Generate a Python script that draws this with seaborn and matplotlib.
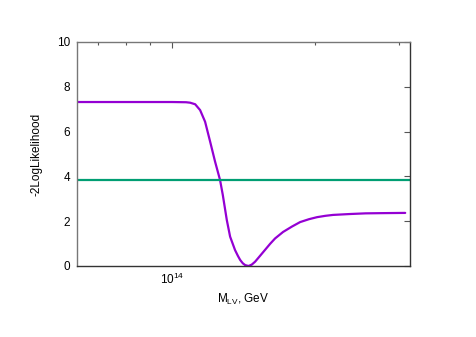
import numpy as np
import pandas as pd
import matplotlib
matplotlib.use('Agg')
import matplotlib.pyplot as plt
import matplotlib.ticker as mticker
import seaborn as sns

# scan of -2 log L against the LV mass scale (GeV)
mass = [6.31e13, 8.0e13, 1.0e14, 1.07e14, 1.091e14, 1.118e14, 1.145e14, 1.173e14,
        1.202e14, 1.231e14, 1.261e14, 1.278e14, 1.303e14, 1.324e14, 1.356e14,
        1.375e14, 1.390e14, 1.408e14, 1.424e14, 1.447e14, 1.470e14, 1.494e14,
        1.530e14, 1.568e14, 1.607e14, 1.646e14, 1.711e14, 1.786e14, 1.858e14,
        1.94e14, 2.017e14, 2.10e14, 2.179e14, 2.364e14, 2.55e14, 2.775e14, 3.09e14]
loglike = [7.32, 7.32, 7.32, 7.31, 7.29, 7.22, 6.96, 6.44,
           5.55, 4.66, 3.84, 3.17, 2.05, 1.31, 0.71,
           0.45, 0.27, 0.12, 0.04, 0.0, 0.06, 0.19,
           0.45, 0.72, 0.99, 1.23, 1.52, 1.76, 1.96,
           2.09, 2.18, 2.24, 2.28, 2.32, 2.35, 2.36, 2.37]
threshold = 3.84

df = pd.DataFrame({'mass': mass, 'loglike': loglike})

sns.set_style('white')
plt.rcParams['font.family'] = ['Liberation Sans', 'DejaVu Sans']
plt.rcParams['mathtext.fontset'] = 'custom'
plt.rcParams['mathtext.rm'] = 'Liberation Sans'
plt.rcParams['mathtext.it'] = 'Liberation Sans'
plt.rcParams['text.color'] = 'black'
plt.rcParams['axes.labelcolor'] = 'black'

fig = plt.figure(figsize=(4.77, 3.37), dpi=100)
ax = fig.add_axes([0.1614, 0.2107, 0.6981, 0.6647])

sns.lineplot(data=df, x='mass', y='loglike', color='#9400D3', linewidth=1.6, ax=ax)
ax.axhline(threshold, color='#009E73', linewidth=1.6)

ax.set_xscale('log')
ax.set_xlim(10**13.8, 10**14.5)
ax.set_ylim(0, 10)
ax.set_yticks([0, 2, 4, 6, 8, 10])
ax.xaxis.set_major_locator(mticker.FixedLocator([1e14]))
ax.xaxis.set_major_formatter(mticker.FixedFormatter([r'$\mathregular{10^{14}}$']))
ax.xaxis.set_minor_locator(mticker.FixedLocator([7e13, 8e13, 9e13, 2e14, 3e14]))
ax.xaxis.set_minor_formatter(mticker.NullFormatter())

ax.tick_params(which='both', direction='in', top=True, right=True, length=4,
               width=0.8, color='#555555', labelcolor='black', labelsize=8.5)
ax.tick_params(which='minor', length=2.5)
ax.tick_params(axis='y', pad=5)
ax.tick_params(axis='x', pad=4)

for side in ['top', 'left']:
    ax.spines[side].set_color('#777777')
for side in ['bottom', 'right']:
    ax.spines[side].set_color('#333333')
for s in ax.spines.values():
    s.set_linewidth(1.0)

ax.set_xlabel(r'M$_{\mathregular{LV}}$, GeV', fontsize=8.5, labelpad=4)
ax.set_ylabel('-2LogLikelihood', fontsize=8.5, labelpad=10)

fig.savefig('out.png', dpi=100)
